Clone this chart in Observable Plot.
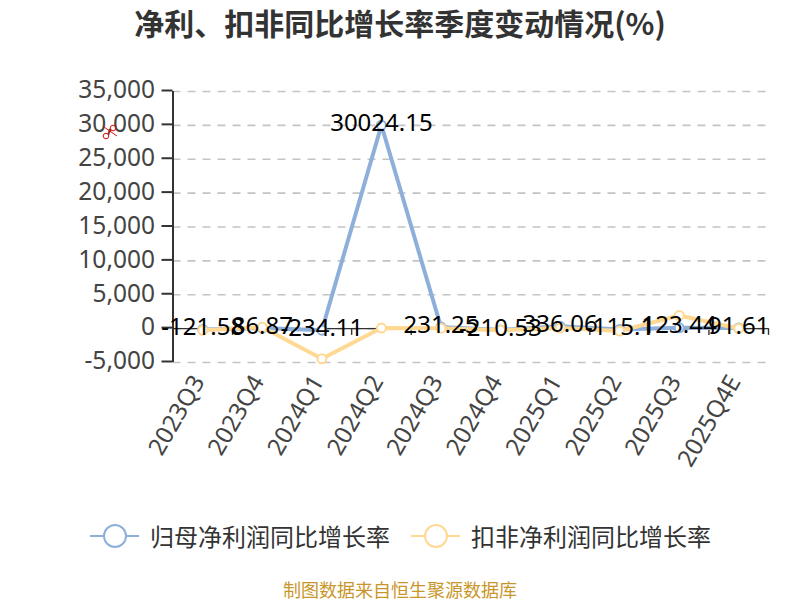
<!DOCTYPE html>
<html><head><meta charset="utf-8">
<script src="https://cdn.jsdelivr.net/npm/d3@7"></script>
<script src="https://cdn.jsdelivr.net/npm/@observablehq/plot@0.6"></script>
<style>
html,body{margin:0;padding:0;background:#fff;width:800px;height:600px;overflow:hidden;font-family:"Noto Sans","Noto Sans CJK SC",sans-serif}
#title{height:50px;line-height:44px;text-align:center;font-size:30px;font-weight:700;color:#333;font-family:"Noto Sans CJK SC",sans-serif}
#chart svg{display:block;overflow:visible}
#legend{position:absolute;top:518px;left:0;width:800px;height:36px;font-size:24px;color:#333;font-family:"Noto Sans CJK SC",sans-serif}
#legend .it{position:absolute;top:0;height:36px;line-height:36px;white-space:nowrap}
#legend svg{position:absolute;left:0;top:0}
#legend span{position:absolute;left:60px;top:0}
#caption{position:absolute;top:578px;left:0;width:800px;height:22px;text-align:center;font-size:18px;line-height:22px;color:#c9962b;font-family:"Noto Sans CJK SC",sans-serif}
#cut{position:absolute;left:100px;top:123px}
</style></head><body>
<div id="title"></div><div id="chart"></div><div id="legend"></div><div id="caption"></div>
<svg id="cut" width="20" height="18" fill="none" stroke="#e01010" stroke-width="1"><circle cx="6" cy="13" r="2.8"/><circle cx="13" cy="5" r="2.8"/><path d="M8 11L11 7M4 4L17 13"/></svg>
<script>
const titleText = "净利、扣非同比增长率季度变动情况(%)";
const captionText = "制图数据来自恒生聚源数据库";
const quarters = ["2023Q3","2023Q4","2024Q1","2024Q2","2024Q3","2024Q4","2025Q1","2025Q2","2025Q3","2025Q4E"];
const netGrowth = [-121.58,86.87,-234.11,30024.15,231.25,-210.53,336.06,-115.1,123.44,91.61];
const deductedGrowth = [-250,200,-4450,80,60,-250,80,-350,1930,30];
const labels = ["-121.58","86.87","-234.11","30024.15","231.25","-210.53","336.06","-115.1","123.44","91.61"];
const yTicks = [-5000,0,5000,10000,15000,20000,25000,30000,35000];
const seriesNames = ["归母净利润同比增长率","扣非净利润同比增长率"];
const seriesColors = ["#8fafdb","#ffd994"];

document.getElementById("title").textContent = titleText;
document.getElementById("caption").textContent = captionText;

const idx = d3.range(quarters.length);
const edges = d3.range(quarters.length + 1).map(i => i - 0.5);
const lineA = idx.map(i => ({i, v: netGrowth[i]}));
const lineB = idx.map(i => ({i, v: deductedGrowth[i]}));
const lab = idx.map(i => ({i, v: netGrowth[i], t: labels[i]}));

const plot = Plot.plot({
  width: 800, height: 440,
  marginTop: 41, marginBottom: 128, marginLeft: 172.5, marginRight: 32,
  style: {background: "transparent", fontFamily: '"Noto Sans","Noto Sans CJK SC",sans-serif', overflow: "visible"},
  x: {type: "linear", domain: [-0.5, quarters.length - 0.5]},
  y: {domain: [-5000, 35000]},
  marks: [
    Plot.gridY(yTicks, {stroke: "#c4c4c4", strokeOpacity: 1, strokeWidth: 1.6, strokeDasharray: "8,7"}),
    Plot.axisY({ticks: yTicks, tickSize: 11, tickPadding: 7, fontSize: 24.5, dy: -1, stroke: "#333", strokeWidth: 2, textStroke: "none", color: "#444", tickFormat: d => d3.format(",")(d).replace("−", "-"), label: null}),
    Plot.ruleX([-0.5], {stroke: "#333", strokeWidth: 2}),
    Plot.ruleY([0], {stroke: "#333", strokeWidth: 1.4}),
    Plot.ruleX(edges, {y1: 0, y2: -1000, stroke: "#333", strokeWidth: 1.4}),
    Plot.axisX({ticks: idx, tickSize: 0, tickPadding: 15, tickRotate: -60, dx: -4, fontSize: 24, color: "#444", textStroke: "none", tickFormat: i => quarters[i], label: null}),
    Plot.line(lineA, {x: "i", y: "v", stroke: seriesColors[0], strokeWidth: 4, curve: "linear"}),
    Plot.dot(lineA, {x: "i", y: "v", r: 4.5, fill: "#fff", stroke: seriesColors[0], strokeWidth: 2}),
    Plot.line(lineB, {x: "i", y: "v", stroke: seriesColors[1], strokeWidth: 4, curve: "linear"}),
    Plot.dot(lineB, {x: "i", y: "v", r: 4.5, fill: "#fff", stroke: seriesColors[1], strokeWidth: 2}),
    Plot.text(lab, {x: "i", y: "v", text: "t", dy: -2, fontSize: 24, fill: "#000", stroke: "none"})
  ]
});
document.getElementById("chart").appendChild(plot);

const legend = document.getElementById("legend");
[90, 411].forEach((left, k) => {
  const it = document.createElement("div");
  it.className = "it"; it.style.left = left + "px"; it.style.width = "310px";
  it.innerHTML = `<svg width="50" height="36"><line x1="0" x2="49" y1="18" y2="18" stroke="${seriesColors[k]}" stroke-width="2"/><circle cx="25" cy="18" r="11" fill="#fff" stroke="${seriesColors[k]}" stroke-width="2"/></svg><span>${seriesNames[k]}</span>`;
  legend.appendChild(it);
});
</script></body></html>
